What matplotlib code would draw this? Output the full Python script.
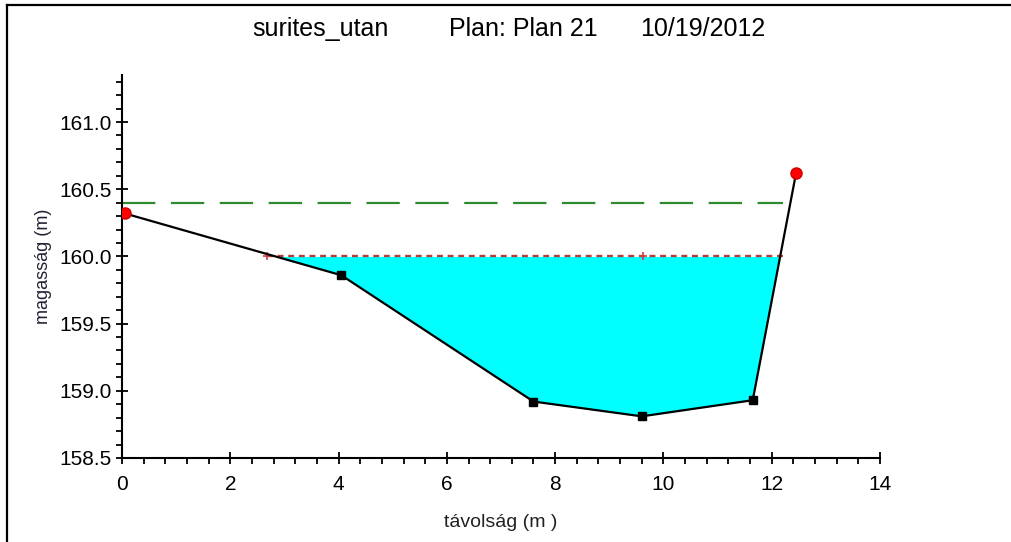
import numpy as np
import matplotlib
matplotlib.use("Agg")
import matplotlib.pyplot as plt
from matplotlib.ticker import MultipleLocator, FormatStrFormatter
from matplotlib.lines import Line2D

# Data
ground_x = np.array([0.05, 4.05, 7.6, 9.6, 11.65, 12.45])
ground_y = np.array([160.32, 159.86, 158.92, 158.81, 158.93, 160.62])
bank_x = [0.05, 12.45]
bank_y = [160.32, 160.62]
pt_x = [4.05, 7.6, 9.6, 11.65]
pt_y = [159.86, 158.92, 158.81, 158.93]
ws_elev = 160.0
ws_x = [2.68, 12.28]
ws_mark_x = [2.68, 9.62]
eg_elev = 160.4
eg_x = [0.0, 12.2]
title_parts = ["surites_utan", "Plan: Plan 21", "10/19/2012"]

plt.rcParams['font.family'] = ['Liberation Sans', 'DejaVu Sans']

fig = plt.figure(figsize=(10.11, 5.42), dpi=100)
ax = fig.add_axes([0.1207, 0.155, 0.7497, 0.7066])

ax.fill_between(ground_x, ground_y, ws_elev, where=ground_y <= ws_elev,
                interpolate=True, color='#00ffff', linewidth=0, zorder=1)
ax.plot(eg_x, [eg_elev, eg_elev], color='#2e8b2e', lw=1.6,
        dashes=(15, 7), zorder=2)
ax.plot(ws_x, [ws_elev, ws_elev], color='#b83c3c', lw=1.7,
        dashes=(2.5, 2.0), zorder=2)
ax.plot(ws_mark_x, [ws_elev] * len(ws_mark_x), ls='none', marker='+',
        color='#d04040', ms=6, mew=1.2, zorder=3)
ax.plot(ground_x, ground_y, color='black', lw=1.6, zorder=4)
ax.plot(pt_x, pt_y, ls='none', marker='s', color='black', ms=6, zorder=5)
ax.plot(bank_x, bank_y, ls='none', marker='o', color='#ff0000', ms=8,
        mec='#cc0000', zorder=6)

ax.set_xlim(0, 14)
ax.set_ylim(158.5, 161.35)
ax.spines['top'].set_visible(False)
ax.spines['right'].set_visible(False)
ax.spines['left'].set_linewidth(1.5)
ax.spines['bottom'].set_linewidth(1.5)
ax.xaxis.set_major_locator(MultipleLocator(2))
ax.xaxis.set_minor_locator(MultipleLocator(0.4))
ax.yaxis.set_major_locator(MultipleLocator(0.5))
ax.yaxis.set_minor_locator(MultipleLocator(0.1))
ax.yaxis.set_major_formatter(FormatStrFormatter('%.1f'))
ax.tick_params(which='major', direction='inout', length=9, width=1.3,
               labelsize=15, pad=3)
ax.tick_params(axis='x', which='major', pad=8)
ax.tick_params(which='minor', direction='out', length=4, width=1.3)

ax.set_xlabel('távolság (m )', fontsize=14, color='#222222', labelpad=14)
ax.set_ylabel('magasság (m)', fontsize=13, color='#222233', labelpad=5)

for txt, xp in zip(title_parts, [320, 523, 703]):
    fig.text(xp / 1011, 1 - 29 / 542, txt, ha='center', va='center',
             fontsize=18)

fig.add_artist(Line2D([7 / 1011, 1], [1 - 5 / 542, 1 - 5 / 542],
                      color='black', lw=1.6, transform=fig.transFigure))
fig.add_artist(Line2D([7 / 1011, 7 / 1011], [0, 1 - 5 / 542],
                      color='black', lw=1.6, transform=fig.transFigure))

fig.savefig('out.png', dpi=100)
